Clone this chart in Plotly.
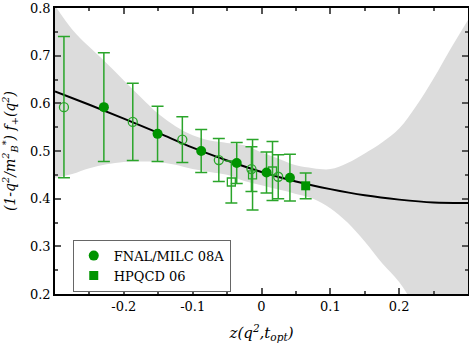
import plotly.graph_objects as go

# fit curve
curve_z = [-0.30, -0.25, -0.20, -0.15, -0.10, -0.05, 0.0, 0.05, 0.10, 0.15, 0.20, 0.25, 0.30]
curve_f = [0.625, 0.597, 0.568, 0.538, 0.507, 0.480, 0.456, 0.436, 0.420, 0.407, 0.398, 0.392, 0.391]

# error band
band_z = [-0.30, -0.275, -0.25, -0.225, -0.20, -0.175, -0.15, -0.125, -0.10, -0.075, -0.05, -0.025,
          0.0, 0.025, 0.05, 0.075, 0.10, 0.125, 0.15, 0.175, 0.20, 0.225, 0.25, 0.275, 0.30]
band_lo = [0.444, 0.452, 0.464, 0.472, 0.477, 0.478, 0.477, 0.471, 0.462, 0.456, 0.450, 0.437,
           0.428, 0.419, 0.410, 0.400, 0.380, 0.350, 0.310, 0.265, 0.225, 0.170, 0.120, 0.070, 0.020]
band_hi = [0.805, 0.755, 0.718, 0.684, 0.648, 0.612, 0.578, 0.552, 0.533, 0.522, 0.517, 0.512,
           0.497, 0.484, 0.470, 0.464, 0.462, 0.475, 0.495, 0.518, 0.547, 0.595, 0.652, 0.715, 0.775]

# FNAL/MILC 08A
fnal_z = [-0.229, -0.151, -0.0876, -0.036, 0.0073, 0.0413]
fnal_f = [0.592, 0.536, 0.500, 0.475, 0.455, 0.444]
fnal_err = [0.114, 0.058, 0.045, 0.043, 0.043, 0.049]
fnal_open_z = [-0.287, -0.187, -0.115, -0.062, -0.0146, 0.0243]
fnal_open_f = [0.592, 0.561, 0.524, 0.481, 0.462, 0.446]
fnal_open_err = [0.148, 0.081, 0.048, 0.045, 0.047, 0.046]

# HPQCD 06
hpqcd_z = [0.0642]
hpqcd_f = [0.427]
hpqcd_err = [0.027]
hpqcd_open_z = [-0.0438, -0.013, 0.016]
hpqcd_open_f = [0.435, 0.450, 0.458]
hpqcd_open_err = [0.044, 0.074, 0.062]

x_ticks = [-0.2, -0.1, 0, 0.1, 0.2]
x_labels = ['-0.2', '-0.1', '0', '0.1', '0.2']
y_ticks = [0.2, 0.3, 0.4, 0.5, 0.6, 0.7, 0.8]
y_labels = ['0.2', '0.3', '0.4', '0.5', '0.6', '0.7', '0.8']

GREEN = '#009400'
BAR = '#2aa52a'
FONT = 'DejaVu Serif'

fig = go.Figure()
fig.add_trace(go.Scatter(x=band_z, y=band_lo, mode='lines', line=dict(width=0, shape='spline'),
                         showlegend=False, hoverinfo='skip'))
fig.add_trace(go.Scatter(x=band_z, y=band_hi, mode='lines', line=dict(width=0, shape='spline'),
                         fill='tonexty', fillcolor='#dcdcdc', showlegend=False, hoverinfo='skip'))
fig.add_trace(go.Scatter(x=curve_z, y=curve_f, mode='lines', line=dict(color='black', width=2, shape='spline'),
                         showlegend=False))


def err(vals):
    return dict(type='data', array=vals, color=BAR, thickness=1.5, width=6)


fig.add_trace(go.Scatter(x=fnal_open_z, y=fnal_open_f, mode='markers', error_y=err(fnal_open_err),
                         marker=dict(symbol='circle-open', size=9, color=BAR, line=dict(width=1.3)),
                         showlegend=False))
fig.add_trace(go.Scatter(x=hpqcd_open_z, y=hpqcd_open_f, mode='markers', error_y=err(hpqcd_open_err),
                         marker=dict(symbol='square-open', size=8, color=BAR, line=dict(width=1.3)),
                         showlegend=False))
fig.add_trace(go.Scatter(x=fnal_z, y=fnal_f, mode='markers', error_y=err(fnal_err), name='FNAL/MILC 08A',
                         marker=dict(symbol='circle', size=10, color=GREEN)))
fig.add_trace(go.Scatter(x=hpqcd_z, y=hpqcd_f, mode='markers', error_y=err(hpqcd_err), name='HPQCD 06',
                         marker=dict(symbol='square', size=9, color=GREEN)))

axis = dict(showline=True, linecolor='black', linewidth=1.5, mirror='allticks', ticks='inside',
            ticklen=6, tickcolor='#555555', tickwidth=1.5, showgrid=False, zeroline=False,
            automargin=False, tickfont=dict(family=FONT, size=13, color='black'))
fig.update_xaxes(axis, range=[-0.3, 0.3], tickvals=x_ticks, ticktext=x_labels,
                 minor=dict(dtick=0.05, tick0=0, ticks='inside', ticklen=3, tickcolor='#555555'),
                 title=dict(text='<i>z(q<sup>2</sup>,t<sub>opt</sub>)</i>',
                            font=dict(family=FONT, size=15, color='black')))
fig.update_yaxes(axis, range=[0.2, 0.8], tickvals=y_ticks, ticktext=y_labels,
                 minor=dict(dtick=0.05, tick0=0, ticks='inside', ticklen=3, tickcolor='#555555'),
                 title=dict(text='<i>(1-q<sup>2</sup>/m<sup>2</sup><sub>B</sub><sup>*</sup>) f<sub>+</sub>(q<sup>2</sup>)</i>',
                            font=dict(family=FONT, size=14, color='black')))
fig.update_layout(width=469, height=343, margin=dict(l=55, r=1, t=8, b=49),
                  plot_bgcolor='white', paper_bgcolor='white',
                  legend=dict(x=0.043, y=0.19, xanchor='left', yanchor='top', bgcolor='white',
                              bordercolor='#666666', borderwidth=1, tracegroupgap=0, traceorder='normal',
                              font=dict(family=FONT, size=13, color='black')))
fig.write_html('out.html', config={'displayModeBar': False},
               post_script="document.body.style.margin='0';")
